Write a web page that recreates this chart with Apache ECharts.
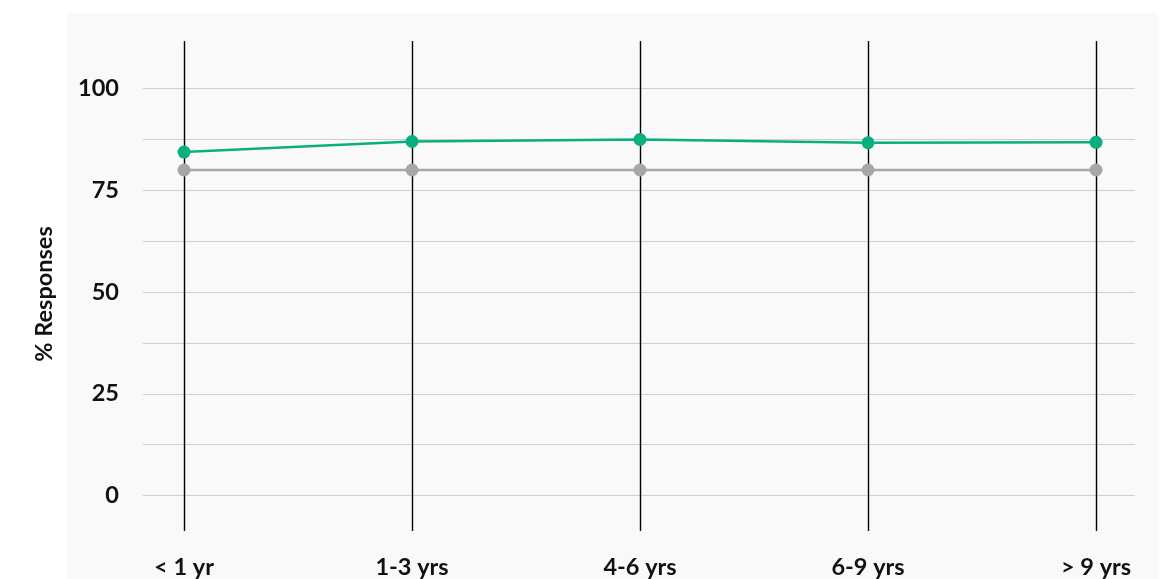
<!DOCTYPE html>
<html>
<head>
<meta charset="utf-8">
<script src="https://cdn.jsdelivr.net/npm/echarts@6/dist/echarts.min.js"></script>
<style>html,body{margin:0;padding:0;background:#fff;}#c{width:1163px;height:579px;}</style>
</head>
<body>
<div id="c"></div>
<script>
var categories = ['< 1 yr', '1-3 yrs', '4-6 yrs', '6-9 yrs', '> 9 yrs'];
var greenValues = [84.4, 87.0, 87.5, 86.7, 86.8];
var grayValues = [80, 80, 80, 80, 80];
var yTickLabels = [0, 25, 50, 75, 100];
var yGridValues = [0, 12.5, 25, 37.5, 50, 62.5, 75, 87.5, 100];
var yAxisName = '% Responses';

var chart = echarts.init(document.getElementById('c'), null, {renderer: 'canvas'});
var font = 'Lato';
function pts(vals){ return vals.map(function(v,i){ return [i, v]; }); }
var catIdx = categories.map(function(c,i){ return i; });

chart.setOption({
  backgroundColor: '#ffffff',
  animation: false,
  graphic: [{
    type: 'rect', z: -10, silent: true,
    shape: {x: 67, y: 13, width: 1091, height: 566},
    style: {fill: '#f9f9f9'}
  }],
  grid: {left: 143, right: 28, top: 41, bottom: 48, containLabel: false},
  xAxis: {
    type: 'value', min: -0.18, max: 4.171,
    axisLine: {show: false},
    axisTick: {show: false, customValues: catIdx},
    splitLine: {show: true, lineStyle: {color: '#000000', width: 1.4}},
    axisLabel: {
      customValues: catIdx,
      formatter: function(v){ return categories[Math.round(v)]; },
      color: '#111', fontFamily: font, fontWeight: 'bold', fontSize: 23.5, margin: 24
    }
  },
  yAxis: {
    type: 'value', min: -8.7, max: 111.7,
    name: yAxisName, nameLocation: 'middle', nameGap: 87, nameRotate: 90,
    nameTextStyle: {color: '#111', fontFamily: font, fontWeight: 'bold', fontSize: 23.5, padding: [0, 0, 0, -16]},
    axisLine: {show: false},
    axisTick: {show: false, customValues: yGridValues},
    splitLine: {show: true, lineStyle: {color: '#cfcfcf', width: 1}},
    axisLabel: {
      customValues: yTickLabels,
      color: '#111', fontFamily: font, fontWeight: 'bold', fontSize: 23.5, margin: 24
    }
  },
  series: [{
    type: 'line', data: pts(grayValues), z: 3,
    symbol: 'circle', symbolSize: 13,
    lineStyle: {color: '#a7a7aa', width: 2.5},
    itemStyle: {color: '#a7a7aa'}
  }, {
    type: 'line', data: pts(greenValues), z: 4,
    symbol: 'circle', symbolSize: 13,
    lineStyle: {color: '#0aaf80', width: 2.5},
    itemStyle: {color: '#0aaf80'}
  }]
});
</script>
</body>
</html>
